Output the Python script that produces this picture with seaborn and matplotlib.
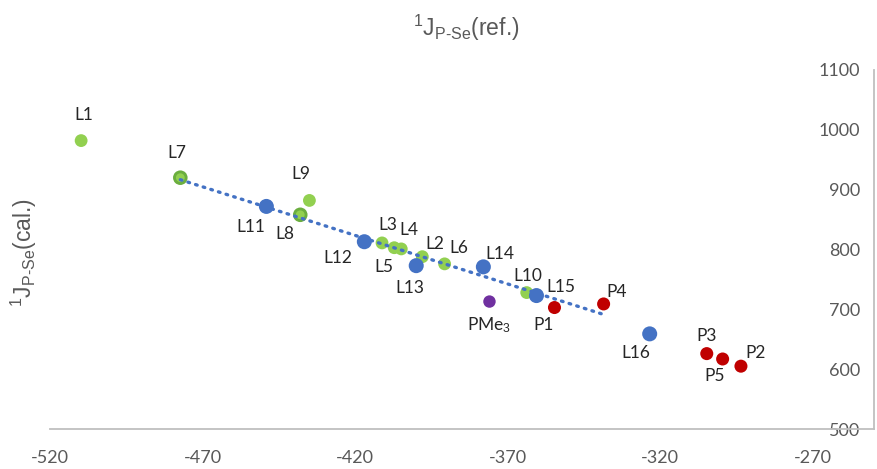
import numpy as np
import pandas as pd
import matplotlib
matplotlib.use("Agg")
import matplotlib.pyplot as plt
import seaborn as sns

# Reference vs. calculated 1J(P-Se) coupling constants (Hz)
labels = ["L1", "L7", "L9", "L11", "L8", "L12", "L3", "L5", "L4", "L2",
          "L13", "L6", "L14", "PMe$_3$", "L10", "L15", "P1", "P4", "L16",
          "P3", "P5", "P2"]
j_ref = [-509.8, -477.3, -435.0, -449.1, -438.0, -417.0, -411.2, -407.2,
         -404.9, -398.0, -400.0, -390.7, -378.0, -376.0, -363.8, -360.6,
         -354.7, -338.6, -323.5, -304.8, -299.6, -293.6]
j_cal = [982, 920, 882, 872, 858, 813, 811, 803, 801, 788, 773, 776, 771,
         713, 728, 723, 703, 709, 659, 626, 617, 605]
groups = ["green", "dkgreen", "green", "blue", "dkgreen", "blue", "green",
          "green", "green", "green", "blue", "green", "blue", "purple",
          "green", "blue", "red", "red", "blue", "red", "red", "red"]

# ligands used for the linear trend
trend_set = ["L7", "L11", "L8", "L12", "L3", "L5", "L4", "L2", "L13", "L6",
             "L14", "L10", "L15", "P1", "P4"]

df = pd.DataFrame({"label": labels, "ref": j_ref, "cal": j_cal, "grp": groups})

palette = {"green": "#92D050", "dkgreen": "#6BAE3F", "blue": "#4472C4",
           "red": "#C00000", "purple": "#7030A0"}
sizes = {"green": 85, "dkgreen": 110, "blue": 117, "red": 88, "purple": 80}

sns.set_style("white")
plt.rcParams["font.family"] = ["Lato", "DejaVu Sans"]
plt.rcParams["axes.unicode_minus"] = False
plt.rcParams["mathtext.fontset"] = "custom"
plt.rcParams["mathtext.rm"] = "Liberation Sans"
plt.rcParams["mathtext.it"] = "Liberation Sans"

fig = plt.figure(figsize=(8.77, 4.69), dpi=100)
ax = fig.add_axes([50 / 877, 40 / 469, 824 / 877, 359 / 469])

# trend line (dotted), fitted on the selected subset
sub = df[df["label"].isin(trend_set)]
coef = np.polyfit(sub["ref"], sub["cal"], 1)
xs = np.array([sub["ref"].min(), sub["ref"].max()])
ax.plot(xs, np.polyval(coef, xs), color="#4472C4", lw=2.4,
        linestyle=(0, (0.5, 1.9)), dash_capstyle="round", zorder=3)

for g in ["green", "dkgreen", "blue", "red", "purple"]:
    d = df[df["grp"] == g]
    sns.scatterplot(data=d, x="ref", y="cal", color=palette[g], s=sizes[g],
                    edgecolor="none", ax=ax, zorder=2, legend=False)
# lighter centres on the overlapping L7 / L8 markers
for lab in ["L7", "L8"]:
    r = df[df["label"] == lab].iloc[0]
    ax.scatter([r["ref"]], [r["cal"]], s=40, color="#92D050",
               edgecolor="none", zorder=2.5)

# label offsets in pixels (dx right, dy up)
offsets = {"L1": (3, 26), "L7": (-3, 25), "L9": (-9, 26), "L11": (-16, -21),
           "L8": (-15, -19), "L12": (-27, -16), "L3": (6, 18), "L5": (-10, -19),
           "L4": (8, 19), "L2": (12, 13), "L13": (-6, -22), "L6": (14, 16),
           "L14": (17, 13), "PMe$_3$": (0, -24), "L10": (1, 17),
           "L15": (24, 9), "P1": (-11, -17), "P4": (13, 12), "L16": (-14, -19),
           "P3": (0, 18), "P5": (-8, -17), "P2": (15, 13)}
for _, r in df.iterrows():
    dx, dy = offsets[r["label"]]
    ax.annotate(r["label"], (r["ref"], r["cal"]), xytext=(dx, dy),
                textcoords="offset pixels", ha="center", va="center",
                fontsize=12.5, color="#262626")

ax.set_xlim(-520, -250)
ax.set_ylim(500, 1100)
ax.set_xticks(np.arange(-520, -269, 50))
ax.set_yticks(np.arange(500, 1101, 100))
ax.yaxis.tick_right()
for s in ["top", "left"]:
    ax.spines[s].set_visible(False)
for s in ["bottom", "right"]:
    ax.spines[s].set_color("#BFBFBF")
    ax.spines[s].set_linewidth(1.3)
ax.tick_params(axis="both", length=0, labelsize=13, colors="#595959")
ax.tick_params(axis="x", pad=15)
ax.tick_params(axis="y", pad=-10)
for t in ax.yaxis.get_major_ticks():
    t.label2.set_horizontalalignment("right")
ax.set_xlabel("")
ax.set_ylabel("")

title_font = ["Liberation Sans", "DejaVu Sans"]
fig.text(466 / 877, 1 - 28 / 469,
         r"$^{1}$J$_{\mathrm{P\text{-}Se}}$(ref.)", family=title_font,
         ha="center", va="center", fontsize=16.5, color="#595959")
fig.text(24 / 877, 1 - 252 / 469,
         r"$^{1}$J$_{\mathrm{P\text{-}Se}}$(cal.)", family=title_font,
         ha="center", va="center", fontsize=16.5, color="#595959", rotation=90)

fig.savefig("out.png", dpi=100)
